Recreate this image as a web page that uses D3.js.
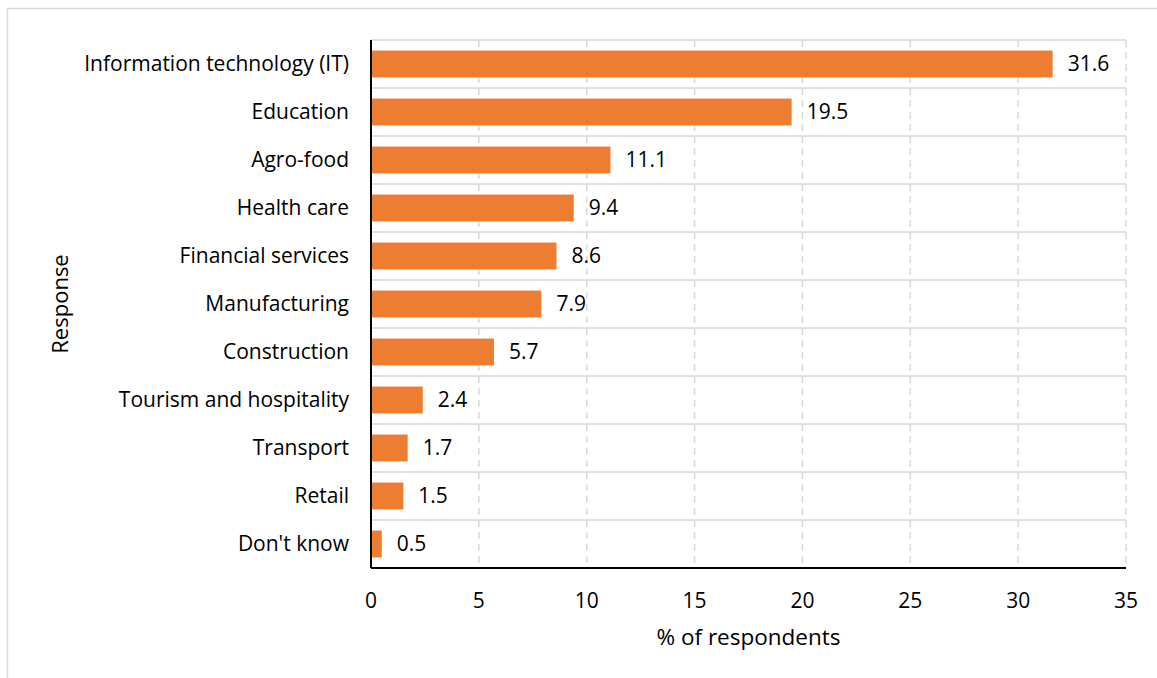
<!DOCTYPE html>
<html>
<head>
<meta charset="utf-8">
<script src="https://cdn.jsdelivr.net/npm/d3@7"></script>
<style>
  body { margin: 0; background: #fff; }
  text { font-family: "Open Sans", "Noto Sans", sans-serif; fill: #000; }
</style>
</head>
<body>
<svg id="chart"></svg>
<script>
const categories = ["Information technology (IT)", "Education", "Agro-food", "Health care",
    "Financial services", "Manufacturing", "Construction", "Tourism and hospitality",
    "Transport", "Retail", "Don't know"];
const values = [31.6, 19.5, 11.1, 9.4, 8.6, 7.9, 5.7, 2.4, 1.7, 1.5, 0.5];
const xTicks = [0, 5, 10, 15, 20, 25, 30, 35];

const width = 1157, height = 678;
const margin = { top: 40, right: 31, bottom: 110, left: 371 };
const innerW = width - margin.left - margin.right;
const innerH = height - margin.top - margin.bottom;

const svg = d3.select("#chart")
    .attr("width", width)
    .attr("height", height);

// outer chart border
svg.append("rect")
    .attr("x", 7.5).attr("y", 8.5)
    .attr("width", width + 10).attr("height", height + 10)
    .attr("fill", "none")
    .attr("stroke", "#d9d9d9")
    .attr("stroke-width", 1.5);

const g = svg.append("g").attr("transform", `translate(${margin.left},${margin.top})`);

const x = d3.scaleLinear().domain([0, 35]).range([0, innerW]);
const y = d3.scaleBand().domain(categories).range([0, innerH]).paddingInner(0.44).paddingOuter(0.22);

// horizontal gridlines at band edges
const edges = d3.range(categories.length).map(i => i * (innerH / categories.length));
g.selectAll("line.hgrid")
    .data(edges)
    .enter()
    .append("line")
    .attr("class", "hgrid")
    .attr("x1", 0).attr("x2", innerW)
    .attr("y1", d => d).attr("y2", d => d)
    .attr("stroke", "#d9d9d9")
    .attr("stroke-width", 1.5);

// vertical dashed gridlines
g.selectAll("line.vgrid")
    .data(xTicks.slice(1))
    .enter()
    .append("line")
    .attr("class", "vgrid")
    .attr("x1", d => x(d)).attr("x2", d => x(d))
    .attr("y1", 0).attr("y2", innerH)
    .attr("stroke", "#d9d9d9")
    .attr("stroke-width", 1.5)
    .attr("stroke-dasharray", "7,5");

// bars
g.selectAll("rect.bar")
    .data(values)
    .enter()
    .append("rect")
    .attr("class", "bar")
    .attr("x", 0)
    .attr("y", (d, i) => y(categories[i]))
    .attr("width", d => x(d))
    .attr("height", y.bandwidth())
    .attr("fill", "#ED7D31");

// value labels
g.selectAll("text.val")
    .data(values)
    .enter()
    .append("text")
    .attr("class", "val")
    .attr("x", d => x(d) + 15)
    .attr("y", (d, i) => y(categories[i]) + y.bandwidth() / 2)
    .attr("dy", "0.35em")
    .style("font-size", "21px")
    .text(d => d.toFixed(1));

// axes lines
g.append("line")
    .attr("x1", 0).attr("x2", 0).attr("y1", 0).attr("y2", innerH)
    .attr("stroke", "#000").attr("stroke-width", 2);
g.append("line")
    .attr("x1", 0).attr("x2", innerW).attr("y1", innerH).attr("y2", innerH)
    .attr("stroke", "#000").attr("stroke-width", 2);

// category labels
g.selectAll("text.cat")
    .data(categories)
    .enter()
    .append("text")
    .attr("class", "cat")
    .attr("x", -22)
    .attr("y", d => y(d) + y.bandwidth() / 2)
    .attr("dy", "0.35em")
    .attr("text-anchor", "end")
    .style("font-size", "21px")
    .text(d => d);

// x tick labels
g.selectAll("text.xtick")
    .data(xTicks)
    .enter()
    .append("text")
    .attr("class", "xtick")
    .attr("x", d => x(d))
    .attr("y", innerH + 33)
    .attr("dy", "0.35em")
    .attr("text-anchor", "middle")
    .style("font-size", "21px")
    .text(d => d);

// axis titles
svg.append("text")
    .attr("x", margin.left + innerW / 2)
    .attr("y", 637)
    .attr("dy", "0.35em")
    .attr("text-anchor", "middle")
    .style("font-size", "22.5px")
    .text("% of respondents");

svg.append("text")
    .attr("transform", "translate(60,304) rotate(-90)")
    .attr("dy", "0.35em")
    .attr("text-anchor", "middle")
    .style("font-size", "22px")
    .text("Response");
</script>
</body>
</html>
